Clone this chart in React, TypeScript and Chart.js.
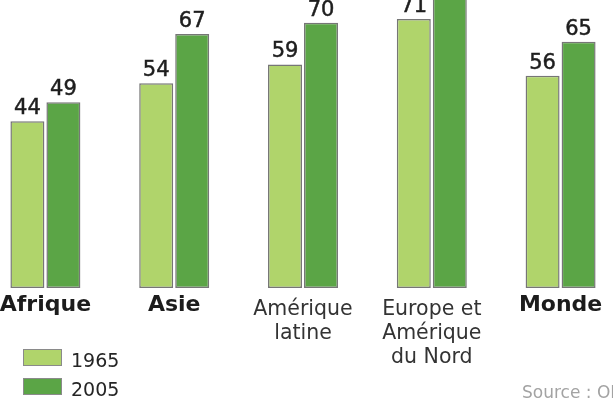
import React, { useEffect, useRef } from "react";
import { Chart, registerables } from "chart.js";

Chart.register(...registerables);

// ---- data ----
const categories: string[][] = [
  ["Afrique"],
  ["Asie"],
  ["Amérique", "latine"],
  ["Europe et", "Amérique", "du Nord"],
  ["Monde"],
];
const seriesLabels: string[] = ["1965", "2005"];
const values1965: number[] = [44, 54, 59, 71, 56];
const values2005: number[] = [49, 67, 70, 77, 65];
const sourceText = "Source : ONU";

// ---- style ----
const LIGHT = "#b0d46b";
const DARK = "#5ba546";
const EDGE = "#767676";
const FONT = "'DejaVu Sans', Verdana, sans-serif";

const overlayPlugin = {
  id: "overlay",
  afterDatasetsDraw(chart: any) {
    const ctx: CanvasRenderingContext2D = chart.ctx;
    ctx.save();
    // value labels above bars
    ctx.font = `21px ${FONT}`;
    ctx.fillStyle = "#1e1e1e";
    ctx.strokeStyle = "#1e1e1e";
    ctx.lineWidth = 0.5;
    ctx.textAlign = "center";
    ctx.textBaseline = "alphabetic";
    chart.data.datasets.forEach((ds: any, di: number) => {
      const meta = chart.getDatasetMeta(di);
      meta.data.forEach((bar: any, i: number) => {
        ctx.fillText(String(ds.data[i]), bar.x, bar.y - 7);
        ctx.strokeText(String(ds.data[i]), bar.x, bar.y - 7);
      });
    });
    // legend (bottom left)
    const boxX = 63;
    const boxW = 39;
    const boxH = 17;
    const rowTops = [389, 418];
    ctx.font = `19px ${FONT}`;
    ctx.textAlign = "left";
    chart.data.datasets.forEach((ds: any, di: number) => {
      const y = rowTops[di];
      ctx.fillStyle = ds.backgroundColor;
      ctx.fillRect(boxX, y, boxW, boxH);
      ctx.strokeStyle = "#8a8a8a";
      ctx.lineWidth = 1;
      ctx.strokeRect(boxX + 0.5, y + 0.5, boxW - 1, boxH - 1);
      ctx.fillStyle = "#252525";
      ctx.fillText(ds.label, boxX + 48, y + 18);
    });
    // source
    ctx.font = `17px ${FONT}`;
    ctx.fillStyle = "#a3a3a3";
    ctx.fillText(sourceText, 562, 438);
    ctx.restore();
  },
};

export default function App() {
  const ref = useRef<HTMLCanvasElement | null>(null);

  useEffect(() => {
    if (!ref.current) return;
    const chart = new Chart(ref.current, {
      type: "bar",
      data: {
        labels: categories,
        datasets: [
          {
            label: seriesLabels[0],
            data: values1965,
            backgroundColor: LIGHT,
            borderColor: EDGE,
            borderWidth: 1.5,
            borderSkipped: false,
          },
          {
            label: seriesLabels[1],
            data: values2005,
            backgroundColor: DARK,
            borderColor: EDGE,
            borderWidth: 1.5,
            borderSkipped: false,
          },
        ],
      },
      options: {
        animation: false,
        responsive: false,
        maintainAspectRatio: false,
        devicePixelRatio: 1,
        layout: { padding: { top: 24.8, left: 21, right: 35, bottom: 52 } },
        datasets: {
          bar: { categoryPercentage: 0.559, barPercentage: 0.944 },
        },
        plugins: {
          legend: { display: false },
          tooltip: { enabled: false },
          title: { display: false },
        },
        scales: {
          x: {
            type: "category",
            offset: true,
            grid: { display: false, drawTicks: false },
            border: { display: false },
            ticks: {
              autoSkip: false,
              maxRotation: 0,
              minRotation: 0,
              padding: 9.5,
              color: (c: any) =>
                categories[c.index] && categories[c.index].length === 1 ? "#1c1c1c" : "#333",
              font: (c: any) =>
                categories[c.index] && categories[c.index].length === 1
                  ? { family: FONT, size: 22, weight: "bold", lineHeight: "15px" }
                  : { family: FONT, size: 20.5, weight: "normal", lineHeight: "24px" },
            },
            afterFit: (s: any) => {
              s.height = 100;
            },
          },
          y: { display: false, min: 0, max: 80 },
        },
      },
      plugins: [overlayPlugin],
    } as any);
    return () => chart.destroy();
  }, []);

  return (
    <div style={{ position: "fixed", left: -40, top: -40, width: 700, height: 480 }}>
      <canvas ref={ref} width={700} height={480} style={{ display: "block" }} />
    </div>
  );
}
